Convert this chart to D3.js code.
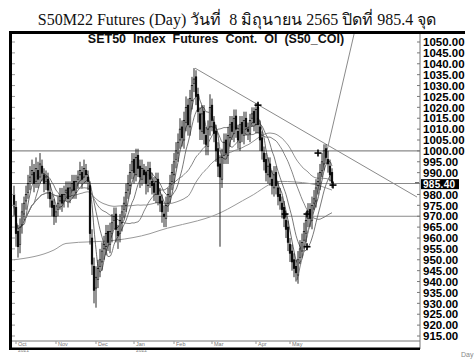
<!DOCTYPE html>
<html><head><meta charset="utf-8">
<script src="https://cdn.jsdelivr.net/npm/d3@7"></script>
<style>body{margin:0;background:#fff}svg{display:block}</style>
</head><body><svg id="c" width="474" height="359"></svg>
<script>
// ---- data (daily bars, Oct 2021 .. 8 Jun 2022) ----
const closes=[975,962,956,965,972,976,980,985,988,991,
 985,992,987,994,990,985,988,982,978,974,
 970,972,976,979,976,980,982,978,983,985,
 982,986,988,991,987,992,989,986,962,948,
 936,942,946,950,954,957,962,958,963,967,
 970,964,961,968,972,976,981,985,990,995,
 990,997,992,988,992,989,985,991,987,984,
 981,986,980,976,972,970,975,980,985,990,
 995,1000,1004,1010,1006,1014,1020,1012,1024,1030,
 1033,1025,1018,1010,1017,1008,1003,1010,1020,1014,
 1008,1000,993,988,997,1004,999,1007,1012,1009,
 1015,1010,1005,1012,1008,1014,1011,1009,1014,1017,
 1013,1019,1012,1005,1000,995,990,993,988,984,
 989,984,979,977,973,969,964,958,953,949,
 946,944,950,955,958,963,968,972,969,975,
 978,983,986,990,995,1000,997,994,989,985.4];
const opens=[980,974,963,957,966,971,977,981,986,989,
 990,986,991,988,993,989,986,987,981,977,
 975,970,973,977,980,977,981,983,979,982,
 986,981,987,989,990,988,991,988,984,960,
 947,937,941,947,949,955,956,963,957,962,
 968,971,963,962,967,973,975,982,984,991,
 996,989,998,993,987,991,990,984,992,986,
 985,980,987,979,977,971,969,976,979,986,
 989,996,999,1005,1011,1005,1013,1021,1011,1023,
 1031,1034,1026,1017,1009,1018,1007,1002,1011,1021,
 1013,1009,1001,994,987,998,1005,998,1006,1013,
 1008,1016,1009,1004,1013,1007,1015,1010,1008,1015,
 1018,1012,1020,1011,1006,999,996,989,994,987,
 983,990,983,980,976,974,968,965,957,954,
 950,947,943,951,954,959,962,969,973,968,
 976,977,984,985,991,994,1001,996,993,990];
const highs=[984,977,966,969,976,979,984,989,993,996,
 994,997,995,999,996,992,991,990,985,980,
 978,975,979,983,983,984,986,986,986,989,
 989,989,991,995,993,996,994,991,986,964,
 951,947,950,955,958,961,966,966,967,971,
 974,974,966,971,975,979,985,989,994,999,
 999,1001,1001,996,996,994,993,995,995,990,
 988,990,990,983,980,975,979,983,989,994,
 999,1004,1008,1015,1014,1018,1025,1024,1028,1034,
 1038,1037,1029,1020,1021,1021,1011,1014,1026,1024,
 1016,1012,1004,998,1001,1008,1008,1011,1016,1016,
 1019,1019,1012,1016,1016,1018,1018,1013,1017,1020,
 1020,1022,1022,1014,1009,1002,999,997,997,991,
 993,993,986,983,979,977,971,968,960,957,
 953,950,954,959,962,967,972,976,976,979,
 982,987,990,994,999,1003,1003,1000,996,992];
const lows=[970,956,951,953,962,968,973,978,982,985,
 981,983,983,985,986,981,982,978,974,970,
 966,967,970,973,972,974,977,974,976,978,
 978,978,983,985,983,985,985,982,957,943,
 930,928,937,942,945,950,952,954,953,958,
 964,958,955,958,963,969,972,978,980,987,
 985,986,988,983,984,985,980,981,983,980,
 977,976,975,972,967,965,965,972,976,982,
 985,992,995,1001,1002,1001,1009,1007,1007,1019,
 1027,1021,1013,1005,1005,1003,998,998,1007,1009,
 1004,995,988,956,983,994,994,994,1002,1005,
 1004,1006,1001,1000,1004,1003,1007,1005,1004,1011,
 1009,1008,1008,1000,996,991,986,985,984,980,
 979,980,975,973,969,965,960,954,949,945,
 942,940,939,948,951,955,958,965,965,964,
 973,974,980,982,988,991,994,990,986,983];
const ma200Idx=[0,20,26,51,68,73,103,118,133,148,159];
const ma200Val=[950,954.5,957.5,959,962,963.5,971.5,979,986,985,982];
const maPeriods=[5,10,25,50];
const lastClose=985.4;
const yTickVals=d3.range(915,1051,5).filter(v=>v!==985);
const hLevels=[1000,985,970];
const monthIdx=[1,21,41,60,80,99,121,138];
const monthLab=["Oct","Nov","Dec","Jan","Feb","Mar","Apr","May"];
const yearLab=["2021","","","2022","","","",""];
const trendDownIdx=[90.5,201.5], trendDownVal=[1038,978.8];
const trendUpIdx=[141.5,170.5], trendUpVal=[940.7,1055.5];
const markIdx=[122,152,159.5,146.5,146.5,135.5];
const markVal=[1021,999,984.3,971,956,971];
const titleText="S50M22 Futures (Day) วันที่  8 มิถุนายน 2565 ปิดที่ 985.4 จุด";
const headerText="SET50  Index  Futures  Cont.  OI  (S50_COI)";

// ---- drawing ----
const svg=d3.select("#c");
const L=12,R=420,T=34,B=341;
const x=d3.scaleLinear().domain([0,159]).range([14,332]);
const y=d3.scaleLinear().domain([915,1050]).range([336,42]);

svg.append("text").attr("x",237).attr("y",25).attr("text-anchor","middle")
  .attr("font-family","'Liberation Serif','Times New Roman',serif").attr("font-size",16)
  .attr("fill","#111").style("white-space","pre").text(titleText);

const clip=svg.append("defs").append("clipPath").attr("id","pc");
clip.append("rect").attr("x",L).attr("y",T).attr("width",R-L).attr("height",B-T);
const g=svg.append("g").attr("clip-path","url(#pc)");

// horizontal levels
g.selectAll("line.h").data(hLevels).join("line").attr("class","h")
  .attr("x1",L).attr("x2",R).attr("y1",d=>y(d)).attr("y2",d=>y(d))
  .attr("stroke","#8a8a8a").attr("stroke-width",1.1);

// MA200
const idx=d3.range(closes.length);
const ma200=ma200Idx.map((d,i)=>[d,ma200Val[i]]);
g.append("path").datum(ma200).attr("fill","none").attr("stroke","#9a9a9a").attr("stroke-width",1)
  .attr("d",d3.line().x(d=>x(d[0])).y(d=>y(d[1])).curve(d3.curveMonotoneX));

// moving averages from closes
const maCol=["#444","#555","#666","#777"];
maPeriods.forEach((p,k)=>{
  const pts=idx.map(i=>[i,d3.mean(closes.slice(Math.max(0,i-p+1),i+1))]);
  g.append("path").datum(pts).attr("fill","none").attr("stroke",maCol[k]).attr("stroke-width",0.8)
    .attr("d",d3.line().x(d=>x(d[0])).y(d=>y(d[1])).curve(d3.curveMonotoneX));
});

// trend lines
[[trendDownIdx,trendDownVal],[trendUpIdx,trendUpVal]].forEach(([ii,vv])=>{
  g.append("line").attr("x1",x(ii[0])).attr("y1",y(vv[0])).attr("x2",x(ii[1])).attr("y2",y(vv[1]))
   .attr("stroke","#8a8a8a").attr("stroke-width",1);
});

// candles
const bars=g.append("g");
bars.selectAll("line").data(idx).join("line")
  .attr("x1",i=>x(i)).attr("x2",i=>x(i)).attr("y1",i=>y(highs[i])).attr("y2",i=>y(lows[i]))
  .attr("stroke","#111").attr("stroke-width",0.9);
bars.selectAll("rect").data(idx).join("rect")
  .attr("x",i=>x(i)-0.8).attr("width",1.6)
  .attr("y",i=>y(Math.max(opens[i],closes[i])))
  .attr("height",i=>Math.max(0.8,Math.abs(y(opens[i])-y(closes[i]))))
  .attr("fill",i=>closes[i]<opens[i]?"#000":"#fff").attr("stroke","#000").attr("stroke-width",0.6);

// markers
const mk=g.selectAll("g.mk").data(markIdx.map((d,i)=>[d,markVal[i]])).join("g")
  .attr("transform",d=>`translate(${x(d[0])},${y(d[1])})`);
mk.append("line").attr("x1",-3.5).attr("x2",3.5).attr("stroke","#000").attr("stroke-width",1.6);
mk.append("line").attr("y1",-3.5).attr("y2",3.5).attr("stroke","#000").attr("stroke-width",1.6);

// header
svg.append("text").attr("x",216).attr("y",42.5).attr("text-anchor","middle")
  .attr("font-family","'Liberation Sans',Arial,sans-serif").attr("font-weight","bold")
  .attr("font-size",12.5).attr("fill","#111").style("white-space","pre").text(headerText);

// right axis
const ax=svg.append("g").attr("transform",`translate(${R},0)`)
  .call(d3.axisRight(y).tickValues(yTickVals).tickFormat(d3.format(".2f")).tickSize(0).tickPadding(3));
ax.select(".domain").remove();
ax.selectAll("text").attr("font-family","'Liberation Sans',Arial,sans-serif").attr("font-weight","bold")
  .attr("font-size",11.5).attr("fill","#000");
svg.append("line").attr("x1",R).attr("x2",R).attr("y1",T).attr("y2",349).attr("stroke","#777").attr("stroke-width",1);
svg.selectAll("line.rt").data(yTickVals).join("line").attr("class","rt")
  .attr("x1",R-3).attr("x2",R).attr("y1",d=>y(d)).attr("y2",d=>y(d)).attr("stroke","#777");
svg.selectAll("line.lt").data(yTickVals).join("line").attr("class","lt")
  .attr("x1",L).attr("x2",L+3).attr("y1",d=>y(d)).attr("y2",d=>y(d)).attr("stroke","#999");

// last price box (fitted between the 990 and 980 labels)
const ly=(y(990)+y(980))/2+0.6;
svg.append("rect").attr("x",R+1).attr("y",ly-5).attr("width",38).attr("height",10).attr("fill","#000");
svg.append("text").attr("x",R+3).attr("y",ly).attr("dy","0.34em").attr("font-family","'Liberation Sans',Arial,sans-serif")
  .attr("font-weight","bold").attr("font-size",10).attr("fill","#fff").attr("letter-spacing",0.3)
  .text(d3.format(".2f")(lastClose));
svg.append("line").attr("x1",R-5).attr("x2",R-1).attr("y1",y(lastClose)).attr("y2",y(lastClose)).attr("stroke","#555");

// bottom axis strip
svg.append("line").attr("x1",L).attr("x2",R).attr("y1",B).attr("y2",B).attr("stroke","#777");
const mg=svg.selectAll("g.mo").data(monthIdx).join("g").attr("class","mo")
  .attr("transform",d=>`translate(${x(d)},0)`);
mg.append("line").attr("y1",B).attr("y2",B+3).attr("stroke","#999");
mg.append("text").attr("x",2).attr("y",B+5).attr("font-family","'Liberation Sans',Arial,sans-serif")
  .attr("font-size",5.5).attr("fill","#777").text((d,i)=>monthLab[i]);
mg.append("text").attr("x",2).attr("y",B+10.5).attr("font-family","'Liberation Sans',Arial,sans-serif")
  .attr("font-size",5).attr("fill","#888").text((d,i)=>yearLab[i]);

// frame
svg.append("rect").attr("x",9).attr("y",31).attr("width",456).attr("height",3).attr("fill","#000");
svg.append("rect").attr("x",9).attr("y",31).attr("width",3).attr("height",319).attr("fill","#000");
svg.append("rect").attr("x",9).attr("y",347.5).attr("width",411).attr("height",2.5).attr("fill","#000");
svg.append("text").attr("x",461).attr("y",357).attr("font-family","'Liberation Sans',Arial,sans-serif")
  .attr("font-size",7).attr("fill","#888").text("Day");
</script></body></html>
